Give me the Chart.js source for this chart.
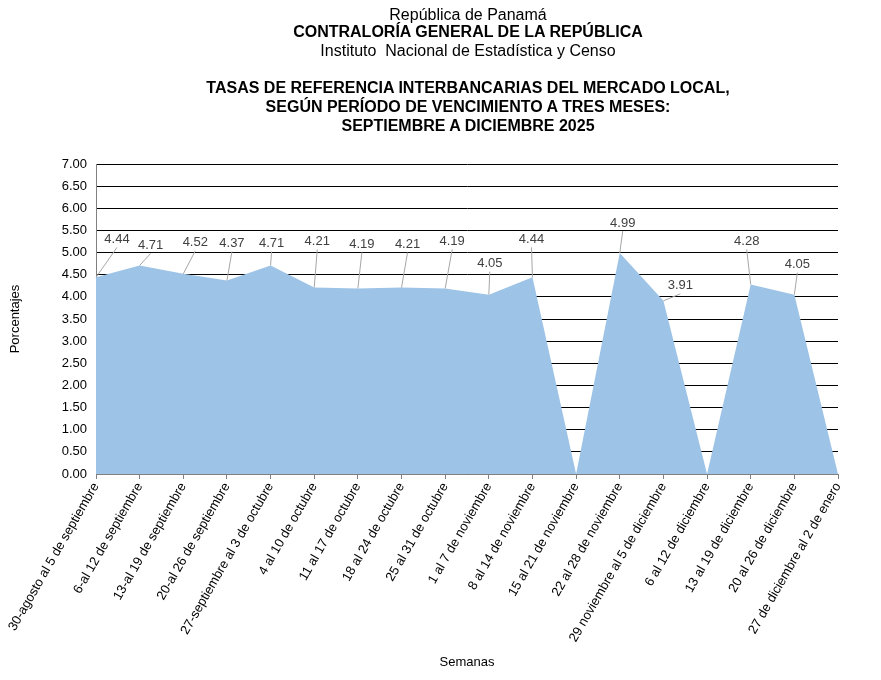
<!DOCTYPE html>
<html>
<head>
<meta charset="utf-8">
<script src="https://cdn.jsdelivr.net/npm/chart.js@4.4.1/dist/chart.umd.min.js"></script>
<style>
  html, body { margin: 0; padding: 0; background: #fff; }
  #wrap { position: relative; width: 881px; height: 680px; }
  #c { position: absolute; left: 0; top: 0; }
  .t { position: absolute; left: 0; width: 936px; text-align: center; font-family: "Liberation Sans", Arial, sans-serif; color: #000; white-space: nowrap; line-height: 18px; }
  .r { font-size: 16px; }
  .b { font-size: 16px; font-weight: bold; }
</style>
</head>
<body>
<div id="wrap">
  <canvas id="c" width="881" height="680"></canvas>
  <div class="t r" style="top:6px">República de Panamá</div>
  <div class="t b" style="top:23px">CONTRALORÍA GENERAL DE LA REPÚBLICA</div>
  <div class="t r" style="top:42px">Instituto&nbsp; Nacional de Estadística y Censo</div>
  <div class="t b" style="top:79px">TASAS DE REFERENCIA INTERBANCARIAS DEL MERCADO LOCAL,</div>
  <div class="t b" style="top:98px">SEGÚN PERÍODO DE VENCIMIENTO A TRES MESES:</div>
  <div class="t b" style="top:117px">SEPTIEMBRE A DICIEMBRE 2025</div>
</div>
<script>
const categories = [
  "30-agosto al 5 de septiembre",
  "6-al 12 de septiembre",
  "13-al 19 de septiembre",
  "20-al 26 de septiembre",
  "27-septiembre al 3 de octubre",
  "4 al 10 de octubre",
  "11 al 17 de octubre",
  "18 al 24 de octubre",
  "25 al 31 de octubre",
  "1 al 7 de noviembre",
  "8 al 14 de noviembre",
  "15 al 21 de noviembre",
  "22 al 28 de noviembre",
  "29 noviembre al 5 de diciembre",
  "6 al 12 de diciembre",
  "13 al 19 de diciembre",
  "20 al 26 de diciembre",
  "27 de diciembre al 2 de enero"
];
const tasas = [4.44, 4.71, 4.52, 4.37, 4.71, 4.21, 4.19, 4.21, 4.19, 4.05, 4.44, 0, 4.99, 3.91, 0, 4.28, 4.05, 0];
const yTicks = [0, 0.5, 1, 1.5, 2, 2.5, 3, 3.5, 4, 4.5, 5, 5.5, 6, 6.5, 7];

// label placement offsets (pixels, label centre relative to point) – styling only
const labelOffsets = [
  [21, -38], [11, -20], [12, -31], [5, -37], [1, -22], [3, -46], [4, -44], [6, -43], [7, -47],
  [1, -31], [-1, -38], null, [3, -30], [17, -15], null, [-4, -43], [3, -30], null
];

const FONT = '"Liberation Sans", Arial, sans-serif';

const leaderLabels = {
  id: 'leaderLabels',
  afterDatasetsDraw(chart) {
    const ctx = chart.ctx;
    const meta = chart.getDatasetMeta(0);
    ctx.save();
    ctx.font = '13px ' + FONT;
    ctx.textAlign = 'center';
    ctx.textBaseline = 'middle';
    meta.data.forEach((pt, i) => {
      const v = tasas[i];
      const off = labelOffsets[i];
      if (!v || !off) return;
      const lx = pt.x + off[0], ly = pt.y + off[1];
      ctx.strokeStyle = '#a6a6a6';
      ctx.lineWidth = 1;
      ctx.beginPath();
      ctx.moveTo(pt.x, pt.y);
      ctx.lineTo(lx, ly + 8);
      ctx.stroke();
      ctx.fillStyle = '#404040';
      ctx.fillText(v.toFixed(2), lx, ly);
    });
    ctx.restore();
  }
};

new Chart(document.getElementById('c'), {
  type: 'line',
  data: {
    labels: categories,
    datasets: [{
      data: tasas,
      fill: 'origin',
      backgroundColor: 'rgb(157,195,230)',
      borderColor: 'rgb(157,195,230)',
      borderWidth: 0,
      pointRadius: 0,
      tension: 0
    }]
  },
  options: {
    responsive: false,
    animation: false,
    layout: { padding: { top: 164, right: 43, bottom: 10, left: 0 } },
    plugins: { legend: { display: false }, tooltip: { enabled: false }, title: { display: false } },
    scales: {
      x: {
        type: 'category',
        offset: false,
        grid: { drawOnChartArea: false, drawTicks: true, tickLength: 5, color: '#808080' },
        border: { color: '#808080' },
        ticks: { autoSkip: false, maxRotation: 60, minRotation: 60, color: '#000', font: { family: FONT, size: 13 }, padding: 1 },
        title: { display: true, text: 'Semanas', color: '#000', font: { family: FONT, size: 13 }, padding: { top: 4, bottom: 0 } },
        afterFit(s) { s.height = 680 - 474 - 10; }
      },
      y: {
        min: 0, max: 7,
        afterBuildTicks(s) { s.ticks = yTicks.map(v => ({ value: v })); },
        grid: { color: '#000', lineWidth: 1, drawTicks: false },
        border: { color: '#808080' },
        ticks: { color: '#000', font: { family: FONT, size: 13 }, padding: 9, callback: v => Number(v).toFixed(2) },
        title: { display: true, text: 'Porcentajes', color: '#000', font: { family: FONT, size: 13 }, padding: { top: 8, bottom: 0 } },
        afterFit(s) { s.width = 96; }
      }
    }
  },
  plugins: [leaderLabels]
});
</script>
</body>
</html>
